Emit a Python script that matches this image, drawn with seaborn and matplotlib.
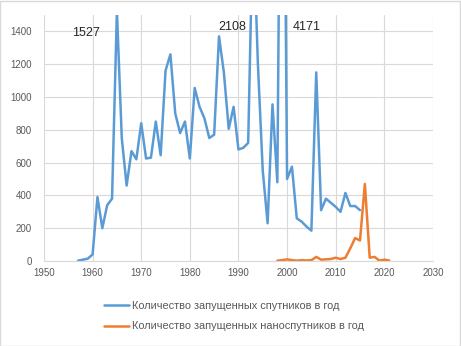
import matplotlib
matplotlib.use("Agg")
import matplotlib.pyplot as plt
import pandas as pd
import seaborn as sns
from matplotlib.patches import Rectangle

# yearly satellite launches (blue) and nanosatellite launches (orange)
sat_years = list(range(1957, 2016))
sat_counts = [2, 8, 14, 40, 390, 200, 340, 380, 1527, 750, 460, 670, 620, 840,
              625, 630, 850, 645, 1160, 1260, 900, 780, 850, 625, 1055, 940, 870,
              750, 770, 1370, 1150, 806, 940, 680, 690, 720, 2108, 1200, 550,
              230, 955, 480, 4171, 500, 575, 260, 240, 210, 185, 1150, 310, 380,
              355, 330, 300, 415, 335, 335, 310]
nano_years = list(range(1998, 2022))
nano_counts = [2, 5, 10, 5, 2, 5, 3, 5, 25, 8, 10, 12, 20, 12, 20, 77, 140, 125,
               470, 20, 25, 2, 8, 3]

sat_label = "Количество запущенных спутников в год"
nano_label = "Количество запущенных наноспутников в год"
peak_labels = ["1527", "2108", "4171"]
peak_pos = [(1958.6, 1392), (1988.7, 1424), (2004.0, 1428)]

sat_df = pd.DataFrame({"year": sat_years, "count": sat_counts})
nano_df = pd.DataFrame({"year": nano_years, "count": nano_counts})

sns.set_style("white")
plt.rcParams["font.family"] = ["Liberation Sans", "DejaVu Sans"]

fig = plt.figure(figsize=(4.61, 3.46), dpi=100)
ax = fig.add_axes([0.0954, 0.2457, 0.8437, 0.711])

sns.lineplot(data=sat_df, x="year", y="count", ax=ax, color="#5B9BD5",
             lw=1.8, label=sat_label)
sns.lineplot(data=nano_df, x="year", y="count", ax=ax, color="#ED7D31",
             lw=1.8, label=nano_label)

ax.set_xlim(1950, 2030)
ax.set_ylim(0, 1500)
ax.set_xticks(range(1950, 2031, 10))
ax.set_yticks(range(0, 1401, 200))
ax.grid(True, color="#d9d9d9", lw=0.8)
ax.set_axisbelow(True)
for s in ["top", "right", "left"]:
    ax.spines[s].set_visible(False)
ax.spines["bottom"].set_color("#d9d9d9")
ax.tick_params(axis="both", length=0, labelsize=7, labelcolor="#595959")
ax.tick_params(axis="y", pad=8.5)
ax.tick_params(axis="x", pad=5)
ax.set_xlabel("")
ax.set_ylabel("")

for txt, (x, y) in zip(peak_labels, peak_pos):
    ax.text(x, y, txt, ha="center", va="center", fontsize=9, color="#262626")

handles, labels = ax.get_legend_handles_labels()
ax.legend_.remove()
fig.legend(handles, labels, loc="upper left", bbox_to_anchor=(0.205, 0.16),
           frameon=False, fontsize=7.9, labelcolor="#595959",
           handlelength=2.2, handletextpad=0.3, labelspacing=1.0)

fig.patches.append(Rectangle((0.001, 0.001), 0.997, 0.997, transform=fig.transFigure,
                             fill=False, edgecolor="#d9d9d9", lw=1))

fig.savefig("out.png", dpi=100)
